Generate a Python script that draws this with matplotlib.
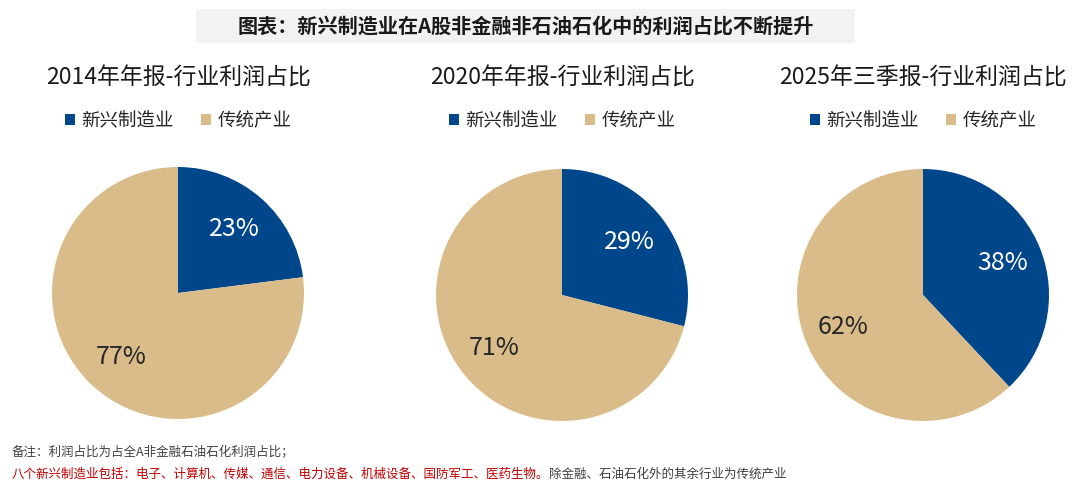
import matplotlib
matplotlib.use("Agg")
import matplotlib.pyplot as plt
from matplotlib.patches import Rectangle, Patch

plt.rcParams['font.family'] = ['Noto Sans CJK SC', 'DejaVu Sans']

title = "图表：新兴制造业在A股非金融非石油石化中的利润占比不断提升"
subtitles = ["2014年年报-行业利润占比", "2020年年报-行业利润占比", "2025年三季报-行业利润占比"]
categories = ["新兴制造业", "传统产业"]
shares = [[23, 77], [29, 71], [38, 62]]
note1 = "备注：利润占比为占全A非金融石油石化利润占比；"
note2_red = "八个新兴制造业包括：电子、计算机、传媒、通信、电力设备、机械设备、国防军工、医药生物。"
note2_black = "除金融、石油石化外的其余行业为传统产业"

colors = ["#00468B", "#D9BC8A"]
text_colors = ["white", "#262626"]

W, H = 1080, 492
fig = plt.figure(figsize=(W / 100, H / 100), dpi=100)
fig.patch.set_facecolor("white")

# title box
fig.patches.append(Rectangle((196 / W, 1 - 43 / H), (855 - 196) / W, 34 / H,
                             transform=fig.transFigure, facecolor="#F2F2F2",
                             edgecolor="none", zorder=0))
fig.text(526 / W, 1 - 26 / H, title, ha="center", va="center", fontsize=14.5,
         fontweight="bold", color="#1a1a1a")

centers = [(178, 293), (562, 295), (923, 295)]
R = 126
for i, (cx, cy) in enumerate(centers):
    ax = fig.add_axes([(cx - R) / W, 1 - (cy + R) / H, 2 * R / W, 2 * R / H])
    wedges, texts, autotexts = ax.pie(
        shares[i], colors=colors, startangle=90, counterclock=False,
        autopct=lambda p: f"{p:.0f}%", pctdistance=0.68,
        wedgeprops=dict(linewidth=0), textprops=dict(fontsize=18))
    for t, c in zip(autotexts, text_colors):
        t.set_color(c)
    ax.set_xlim(-1, 1)
    ax.set_ylim(-1, 1)
    ax.set_aspect("equal")
    ax.axis("off")
    fig.text(cx / W, 1 - 78 / H, subtitles[i], ha="center", va="center",
             fontsize=16.5, color="#1a1a1a")
    handles = [Patch(facecolor=colors[k], edgecolor="none") for k in range(2)]
    fig.legend(handles, categories, loc="center", bbox_to_anchor=(cx / W, 1 - 121 / H),
               ncol=2, frameon=False, fontsize=13.3, handlelength=0.55, handleheight=0.55,
               handletextpad=0.35, columnspacing=1.45, labelcolor="#262626")

fig.text(12 / W, 1 - 452 / H, note1, ha="left", va="center", fontsize=9, color="#404040")
t = fig.text(12 / W, 1 - 474 / H, note2_red, ha="left", va="center", fontsize=9, color="#C00000")
fig.canvas.draw()
bb = t.get_window_extent()
fig.text(bb.x1 / W, 1 - 474 / H, note2_black, ha="left", va="center", fontsize=9, color="#404040")

fig.savefig("out.png", dpi=100)
